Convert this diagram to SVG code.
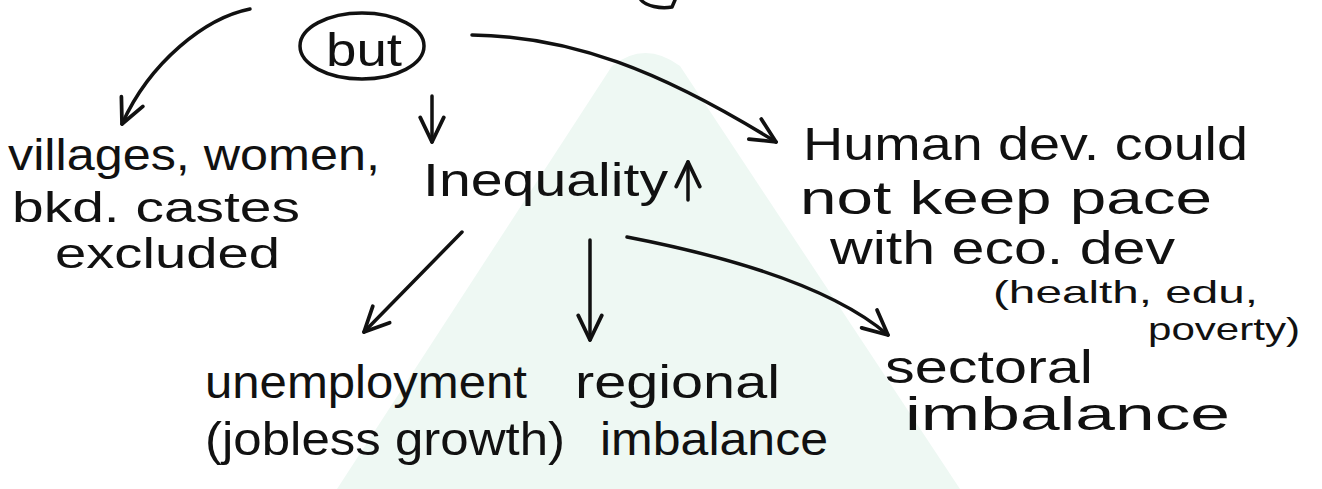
<svg xmlns="http://www.w3.org/2000/svg" width="1322" height="489" viewBox="0 0 1322 489">
  <style>
    .hand { font-family: "Liberation Sans", "DejaVu Sans", sans-serif; fill: #111; }
    .big { font-size: 46px; }
    .mid { font-size: 42px; }
    .small { font-size: 32px; }
    .stroke { fill: none; stroke: #111; stroke-width: 3.5; stroke-linecap: round; stroke-linejoin: round; }
  </style>
  <defs>
    <marker id="arrow" viewBox="0 0 28 28" refX="26" refY="14" markerWidth="30" markerHeight="30" markerUnits="userSpaceOnUse" orient="auto">
      <path d="M3,3 L26,14 L3,25" fill="none" stroke="#111" stroke-width="3.5" stroke-linecap="round" stroke-linejoin="round"/>
    </marker>
  </defs>

  <rect width="1322" height="489" fill="#ffffff"/>

  <!-- pale mint background mark -->
  <path d="M337,489 L612,66 Q645,40 680,66 L960,489 Z" fill="#eef8f3"/>

  <!-- stroke of a letter cut off at the top edge -->
  <path class="stroke" d="M641,0 C646,6 660,9 672,7 L675,0"/>

  <g id="connectors">
    <path class="stroke" d="M250,9 C205,18 150,62 122,124" marker-end="url(#arrow)"/>
    <path class="stroke" d="M432,96 L432,142" marker-end="url(#arrow)"/>
    <path class="stroke" d="M472,35 C570,36 660,70 776,142" marker-end="url(#arrow)"/>
    <path class="stroke" d="M462,232 L364,332" marker-end="url(#arrow)"/>
    <path class="stroke" d="M590,240 L590,340" marker-end="url(#arrow)"/>
    <path class="stroke" d="M627,237 C720,255 830,285 888,335" marker-end="url(#arrow)"/>
    <path class="stroke" d="M688,200 L688,162" marker-end="url(#arrow)"/>
  </g>

  <g id="node-but">
    <ellipse class="stroke" cx="362" cy="46" rx="62" ry="33"/>
    <text class="hand big" x="326" y="66" textLength="76" lengthAdjust="spacingAndGlyphs">but</text>
  </g>

  <g id="node-excluded">
    <text class="hand big" style="font-size:44px" x="8" y="170" textLength="372" lengthAdjust="spacingAndGlyphs">villages, women,</text>
    <text class="hand mid" x="12" y="222" textLength="288" lengthAdjust="spacingAndGlyphs">bkd. castes</text>
    <text class="hand mid" x="55" y="268" textLength="225" lengthAdjust="spacingAndGlyphs">excluded</text>
  </g>

  <g id="node-inequality">
    <text class="hand big" x="423" y="196" textLength="245" lengthAdjust="spacingAndGlyphs">Inequality</text>
  </g>

  <g id="node-human-dev">
    <text class="hand big" x="803" y="160" textLength="445" lengthAdjust="spacingAndGlyphs">Human dev. could</text>
    <text class="hand big" x="800" y="214" textLength="412" lengthAdjust="spacingAndGlyphs">not keep pace</text>
    <text class="hand big" x="830" y="264" textLength="345" lengthAdjust="spacingAndGlyphs">with eco. dev</text>
    <text class="hand small" x="993" y="303" textLength="265" lengthAdjust="spacingAndGlyphs">(health, edu,</text>
    <text class="hand small" x="1148" y="340" textLength="152" lengthAdjust="spacingAndGlyphs">poverty)</text>
  </g>

  <g id="node-unemployment">
    <text class="hand big" x="205" y="398" textLength="322" lengthAdjust="spacingAndGlyphs">unemployment</text>
    <text class="hand big" x="205" y="455" textLength="360" lengthAdjust="spacingAndGlyphs">(jobless growth)</text>
  </g>

  <g id="node-regional">
    <text class="hand big" x="575" y="398" textLength="205" lengthAdjust="spacingAndGlyphs">regional</text>
    <text class="hand big" x="600" y="455" textLength="228" lengthAdjust="spacingAndGlyphs">imbalance</text>
  </g>

  <g id="node-sectoral">
    <text class="hand big" x="885" y="383" textLength="208" lengthAdjust="spacingAndGlyphs">sectoral</text>
    <text class="hand big" x="905" y="430" textLength="325" lengthAdjust="spacingAndGlyphs">imbalance</text>
  </g>
</svg>
